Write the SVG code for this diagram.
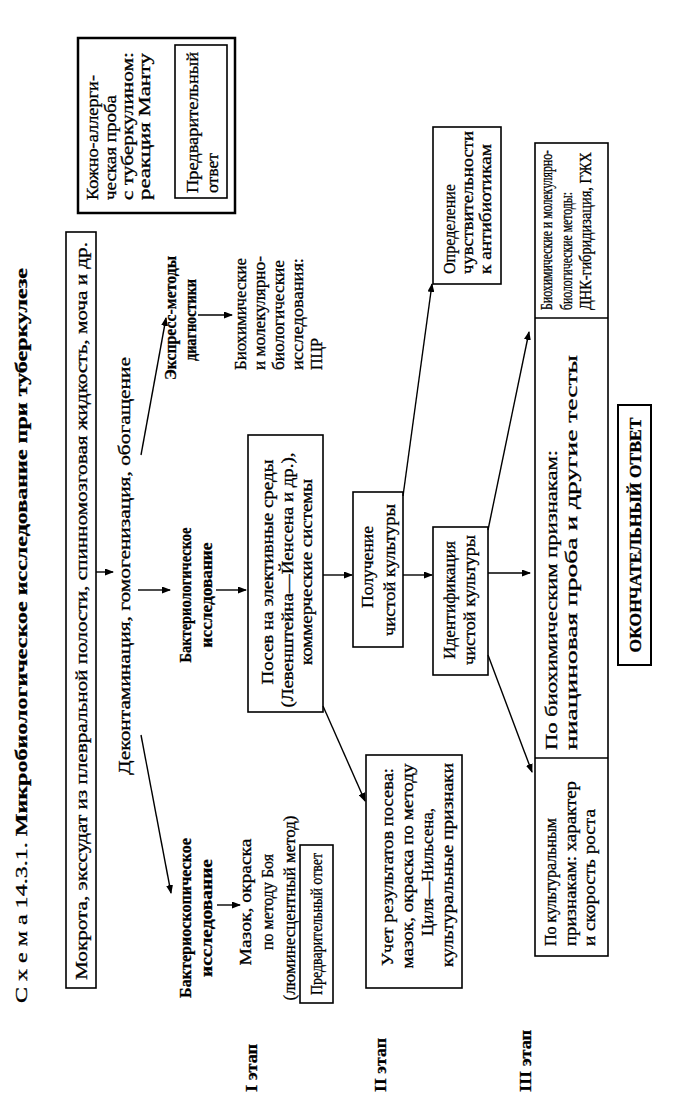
<svg xmlns="http://www.w3.org/2000/svg" width="674" height="1117" viewBox="0 0 674 1117">
<style>
.t{font-family:"Liberation Serif","Times New Roman",serif;font-size:17px;fill:#000;stroke:#000;stroke-width:0.3}
.b{font-weight:bold}
.bx{fill:none;stroke:#000;stroke-width:1.6}
.ln{stroke:#000;stroke-width:1.4;fill:none}
.ar{stroke:#000;stroke-width:1.4;fill:none;marker-end:url(#ah)}
</style>
<defs>
<marker id="ah" markerUnits="userSpaceOnUse" markerWidth="9" markerHeight="7" refX="8" refY="3.5" orient="auto">
<path d="M0,0 L9,3.5 L0,7 z" fill="#000"/>
</marker>
</defs>
<rect width="674" height="1117" fill="#fff"/>

<g id="title">
<text class="t" font-size="19" transform="translate(27,1003) rotate(-90)" textLength="735" lengthAdjust="spacingAndGlyphs">С х е м а 14.3.1. <tspan class="b">Микробиологическое исследование при туберкулезе</tspan></text>
</g>

<g id="sample">
<rect class="bx" x="66" y="232" width="30" height="756"/>
<text class="t" transform="translate(87,980) rotate(-90)" textLength="738" lengthAdjust="spacingAndGlyphs">Мокрота, экссудат из плевральной полости, спинномозговая жидкость, моча и др.</text>
</g>

<g id="skin-test">
<rect x="78" y="38" width="157" height="175" fill="none" stroke="#000" stroke-width="2.5"/>
<text class="t" transform="translate(98,200) rotate(-90)" textLength="125" lengthAdjust="spacingAndGlyphs">Кожно-аллерги-</text>
<text class="t" transform="translate(116,200) rotate(-90)" textLength="105" lengthAdjust="spacingAndGlyphs">ческая проба</text>
<text class="t" transform="translate(133,200) rotate(-90)" textLength="148" lengthAdjust="spacingAndGlyphs">с туберкулином:</text>
<text class="t" transform="translate(150,200) rotate(-90)" textLength="147" lengthAdjust="spacingAndGlyphs">реакция Манту</text>
<rect class="bx" x="175" y="45" width="52" height="153"/>
<text class="t" transform="translate(198,193) rotate(-90)" textLength="141" lengthAdjust="spacingAndGlyphs">Предварительный</text>
<text class="t" transform="translate(218,193) rotate(-90)" textLength="40" lengthAdjust="spacingAndGlyphs">ответ</text>
</g>

<g id="decontamination">
<text class="t" transform="translate(130,775) rotate(-90)" textLength="418" lengthAdjust="spacingAndGlyphs">Деконтаминация,  гомогенизация,  обогащение</text>
</g>

<g id="bacterioscopy">
<text class="t b" font-size="16" text-anchor="middle" transform="translate(191,918) rotate(-90)" textLength="160" lengthAdjust="spacingAndGlyphs">Бактериоскопическое</text>
<text class="t b" font-size="16" text-anchor="middle" transform="translate(212,918) rotate(-90)" textLength="118" lengthAdjust="spacingAndGlyphs">исследование</text>
</g>

<g id="smear">
<text class="t" text-anchor="middle" transform="translate(251,902) rotate(-90)" textLength="127" lengthAdjust="spacingAndGlyphs">Мазок, окраска</text>
<text class="t" text-anchor="middle" transform="translate(273,902) rotate(-90)" textLength="96" lengthAdjust="spacingAndGlyphs">по методу Боя</text>
<text class="t" text-anchor="middle" transform="translate(295,908) rotate(-90)" textLength="185" lengthAdjust="spacingAndGlyphs">(люминесцентный метод)</text>
</g>

<g id="prelim-1">
<rect class="bx" x="300" y="845" width="33" height="158"/>
<text class="t" text-anchor="middle" transform="translate(322,924) rotate(-90)" textLength="142" lengthAdjust="spacingAndGlyphs">Предварительный ответ</text>
</g>

<g id="bacteriology">
<text class="t b" font-size="16" text-anchor="middle" transform="translate(191,595) rotate(-90)" textLength="135" lengthAdjust="spacingAndGlyphs">Бактериологическое</text>
<text class="t b" font-size="16" text-anchor="middle" transform="translate(212,595) rotate(-90)" textLength="105" lengthAdjust="spacingAndGlyphs">исследование</text>
</g>

<g id="express">
<text class="t b" font-size="16" text-anchor="middle" transform="translate(176,318) rotate(-90)" textLength="124" lengthAdjust="spacingAndGlyphs">Экспресс-методы</text>
<text class="t b" font-size="16" text-anchor="middle" transform="translate(196,320) rotate(-90)" textLength="82" lengthAdjust="spacingAndGlyphs">диагностики</text>
</g>

<g id="pcr">
<text class="t" transform="translate(246,370) rotate(-90)" textLength="112" lengthAdjust="spacingAndGlyphs">Биохимические</text>
<text class="t" transform="translate(265,370) rotate(-90)" textLength="114" lengthAdjust="spacingAndGlyphs">и молекулярно-</text>
<text class="t" transform="translate(284,370) rotate(-90)" textLength="110" lengthAdjust="spacingAndGlyphs">биологические</text>
<text class="t" transform="translate(303,370) rotate(-90)" textLength="112" lengthAdjust="spacingAndGlyphs">исследования:</text>
<text class="t" transform="translate(322,370) rotate(-90)" textLength="32" lengthAdjust="spacingAndGlyphs">ПЦР</text>
</g>

<g id="seeding">
<rect class="bx" x="248" y="435" width="75" height="277"/>
<text class="t" text-anchor="middle" transform="translate(273,572) rotate(-90)" textLength="225" lengthAdjust="spacingAndGlyphs">Посев на элективные среды</text>
<text class="t" text-anchor="middle" transform="translate(293,580) rotate(-90)" textLength="255" lengthAdjust="spacingAndGlyphs">(Левенштейна—Йенсена и др.),</text>
<text class="t" text-anchor="middle" transform="translate(312,572) rotate(-90)" textLength="186" lengthAdjust="spacingAndGlyphs">коммерческие системы</text>
</g>

<g id="pure-culture">
<rect class="bx" x="353" y="492" width="50" height="155"/>
<text class="t" text-anchor="middle" transform="translate(373,567) rotate(-90)" textLength="82" lengthAdjust="spacingAndGlyphs">Получение</text>
<text class="t" text-anchor="middle" transform="translate(395,570) rotate(-90)" textLength="132" lengthAdjust="spacingAndGlyphs">чистой культуры</text>
</g>

<g id="results">
<rect class="bx" x="366" y="755" width="96" height="233"/>
<text class="t" text-anchor="middle" transform="translate(393,867) rotate(-90)" textLength="198" lengthAdjust="spacingAndGlyphs">Учет результатов посева:</text>
<text class="t" text-anchor="middle" transform="translate(413,866) rotate(-90)" textLength="205" lengthAdjust="spacingAndGlyphs">мазок, окраска по методу</text>
<text class="t" text-anchor="middle" transform="translate(433,872) rotate(-90)" textLength="128" lengthAdjust="spacingAndGlyphs">Циля—Нильсена,</text>
<text class="t" text-anchor="middle" transform="translate(453,865) rotate(-90)" textLength="204" lengthAdjust="spacingAndGlyphs">культуральные признаки</text>
</g>

<g id="sensitivity">
<rect class="bx" x="433" y="127" width="68" height="157"/>
<text class="t" transform="translate(455,274) rotate(-90)" textLength="90" lengthAdjust="spacingAndGlyphs">Определение</text>
<text class="t" transform="translate(473,274) rotate(-90)" textLength="143" lengthAdjust="spacingAndGlyphs">чувствительности</text>
<text class="t" transform="translate(491,274) rotate(-90)" textLength="130" lengthAdjust="spacingAndGlyphs">к антибиотикам</text>
</g>

<g id="identification">
<rect class="bx" x="433" y="527" width="55" height="148"/>
<text class="t" text-anchor="middle" transform="translate(455,600) rotate(-90)" textLength="118" lengthAdjust="spacingAndGlyphs">Идентификация</text>
<text class="t" text-anchor="middle" transform="translate(475,600) rotate(-90)" textLength="130" lengthAdjust="spacingAndGlyphs">чистой культуры</text>
</g>

<g id="methods">
<rect class="bx" x="535" y="143" width="73" height="813"/>
<line class="ln" x1="535" y1="758" x2="608" y2="758"/>
<line class="ln" x1="535" y1="318" x2="608" y2="318"/>
<text class="t" transform="translate(556,946) rotate(-90)" textLength="128" lengthAdjust="spacingAndGlyphs">По культуральным</text>
<text class="t" transform="translate(576,946) rotate(-90)" textLength="165" lengthAdjust="spacingAndGlyphs">признакам: характер</text>
<text class="t" transform="translate(595,946) rotate(-90)" textLength="137" lengthAdjust="spacingAndGlyphs">и скорость роста</text>
<text class="t" font-size="18" transform="translate(557,750) rotate(-90)" textLength="300" lengthAdjust="spacingAndGlyphs">По биохимическим признакам:</text>
<text class="t" font-size="18" transform="translate(577,750) rotate(-90)" textLength="395" lengthAdjust="spacingAndGlyphs">ниациновая проба и другие тесты</text>
<text class="t" font-size="15" transform="translate(552,310) rotate(-90)" textLength="160" lengthAdjust="spacingAndGlyphs">Биохимические и молекулярно-</text>
<text class="t" font-size="15" transform="translate(572,310) rotate(-90)" textLength="118" lengthAdjust="spacingAndGlyphs">биологические методы:</text>
<text class="t" font-size="15" transform="translate(591,310) rotate(-90)" textLength="158" lengthAdjust="spacingAndGlyphs">ДНК-гибридизация,  ГЖХ</text>
</g>

<g id="final">
<rect x="618" y="405" width="33" height="260" fill="none" stroke="#000" stroke-width="2"/>
<text class="t b" text-anchor="middle" transform="translate(641,535) rotate(-90)" textLength="235" lengthAdjust="spacingAndGlyphs">ОКОНЧАТЕЛЬНЫЙ ОТВЕТ</text>
</g>

<g id="stages">
<text class="t b" transform="translate(257,1092) rotate(-90)" textLength="48" lengthAdjust="spacingAndGlyphs">I этап</text>
<text class="t b" transform="translate(386,1092) rotate(-90)" textLength="54" lengthAdjust="spacingAndGlyphs">II этап</text>
<text class="t b" transform="translate(531,1092) rotate(-90)" textLength="62" lengthAdjust="spacingAndGlyphs">III этап</text>
</g>

<g id="connectors">
<line class="ar" x1="96" y1="572" x2="113" y2="572"/>
<line class="ar" x1="141" y1="735" x2="171" y2="893"/>
<line class="ar" x1="138" y1="590" x2="170" y2="590"/>
<line class="ar" x1="141" y1="455" x2="166" y2="318"/>
<line class="ar" x1="217" y1="905" x2="240" y2="905"/>
<line class="ar" x1="216" y1="590" x2="246" y2="590"/>
<line class="ar" x1="198" y1="315" x2="232" y2="315"/>
<line class="ar" x1="323" y1="575" x2="352" y2="575"/>
<line class="ar" x1="403" y1="496" x2="432" y2="284"/>
<line class="ar" x1="403" y1="575" x2="432" y2="575"/>
<line class="ar" x1="323" y1="706" x2="365" y2="801"/>
<line class="ar" x1="488" y1="573" x2="530" y2="573"/>
<line class="ar" x1="488" y1="530" x2="529" y2="332"/>
<line class="ar" x1="488" y1="655" x2="532" y2="772"/>
</g>
</svg>
